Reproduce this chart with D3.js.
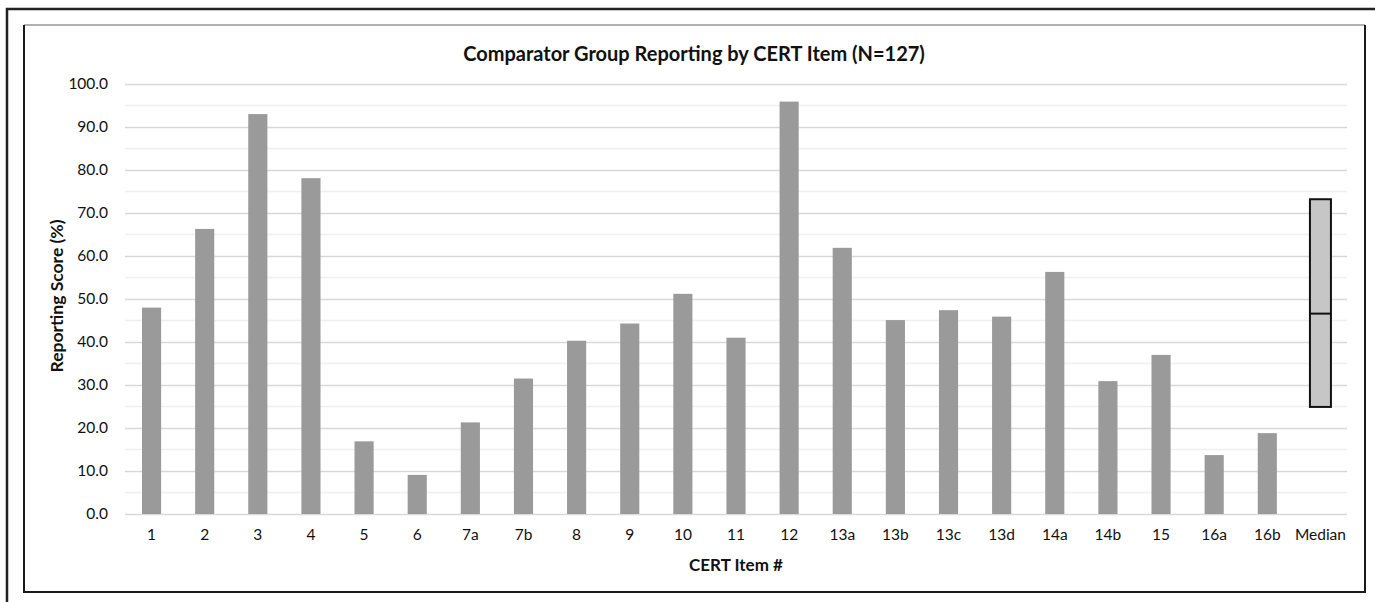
<!DOCTYPE html>
<html>
<head>
<meta charset="utf-8">
<script src="https://cdn.jsdelivr.net/npm/d3@7"></script>
<style>
  body { margin: 0; background: #fff; }
  svg { display: block; font-family: Lato, 'Open Sans', sans-serif; }
</style>
</head>
<body>
<div class="chart"></div>
<script>
// data
const items = ['1', '2', '3', '4', '5', '6', '7a', '7b', '8', '9', '10', '11', '12',
  '13a', '13b', '13c', '13d', '14a', '14b', '15', '16a', '16b', 'Median'];
const scores = [48.0, 66.3, 93.0, 78.1, 16.9, 9.1, 21.3, 31.5, 40.3, 44.3, 51.2, 41.0, 95.9,
  61.9, 45.1, 47.4, 45.9, 56.3, 30.9, 37.0, 13.7, 18.8];
const medianBox = { low: 24.9, mid: 46.6, high: 73.2 };
const yTicks = [0, 10, 20, 30, 40, 50, 60, 70, 80, 90, 100];
const minorTicks = [5, 15, 25, 35, 45, 55, 65, 75, 85, 95];

const width = 1375;
const height = 602;
const margin = { top: 84, right: 28, bottom: 88, left: 125 };

const svg = d3.select('.chart')
  .append('svg')
  .attr('width', width)
  .attr('height', height);

// outer frame (left + top only, image is cropped)
svg.append('path')
  .attr('d', 'M7,602 L7,9 L1375,9')
  .attr('fill', 'none')
  .attr('stroke', '#222')
  .attr('stroke-width', 2.5);

// chart area border
svg.append('line').attr('x1', 24).attr('x2', 1365).attr('y1', 25).attr('y2', 25)
  .attr('stroke', '#999').attr('stroke-width', 1.5);
svg.append('path')
  .attr('d', 'M24,25 L24,592 L1365,592 L1365,25')
  .attr('fill', 'none')
  .attr('stroke', '#1a1a1a')
  .attr('stroke-width', 2);

const x = d3.scaleBand()
  .domain(items)
  .range([margin.left, width - margin.right])
  .paddingInner(0.64)
  .paddingOuter(0.32);

const y = d3.scaleLinear()
  .domain([0, 100])
  .range([height - margin.bottom, margin.top]);

// minor gridlines
svg.append('g')
  .selectAll('line')
  .data(minorTicks)
  .enter()
  .append('line')
  .attr('x1', margin.left)
  .attr('x2', width - margin.right)
  .attr('y1', d => y(d))
  .attr('y2', d => y(d))
  .attr('stroke', '#f0f0f0')
  .attr('stroke-width', 1.5);

// major gridlines + labels
const yAxis = d3.axisLeft(y)
  .tickValues(yTicks)
  .tickFormat(d3.format('.1f'))
  .tickSize(-(width - margin.left - margin.right))
  .tickPadding(17);

svg.append('g')
  .attr('transform', 'translate(' + margin.left + ',0)')
  .call(yAxis)
  .call(g => g.select('.domain').remove())
  .call(g => g.selectAll('.tick line').attr('stroke', '#d9d9d9').attr('stroke-width', 1.5))
  .call(g => g.selectAll('.tick text')
    .attr('font-size', 15.5)
    .attr('fill', '#111')
    .attr('font-family', 'Lato, sans-serif'));

// bars
svg.append('g')
  .selectAll('rect')
  .data(scores)
  .enter()
  .append('rect')
  .attr('x', (d, i) => x(items[i]))
  .attr('y', d => y(d))
  .attr('width', x.bandwidth())
  .attr('height', d => y(0) - y(d))
  .attr('fill', '#9a9a9a');

// median box
const bx = x('Median') + x.bandwidth() / 2;
const bw = 21;
svg.append('rect')
  .attr('x', bx - bw / 2)
  .attr('y', y(medianBox.high))
  .attr('width', bw)
  .attr('height', y(medianBox.low) - y(medianBox.high))
  .attr('fill', '#c6c6c6')
  .attr('stroke', '#111')
  .attr('stroke-width', 2);
svg.append('line')
  .attr('x1', bx - bw / 2)
  .attr('x2', bx + bw / 2)
  .attr('y1', y(medianBox.mid))
  .attr('y2', y(medianBox.mid))
  .attr('stroke', '#111')
  .attr('stroke-width', 2);

// x axis labels
const xAxis = d3.axisBottom(x).tickSize(0).tickPadding(15);
svg.append('g')
  .attr('transform', 'translate(0,' + y(0) + ')')
  .call(xAxis)
  .call(g => g.select('.domain').remove())
  .call(g => g.selectAll('.tick text')
    .attr('font-size', 15.5)
    .attr('fill', '#111')
    .attr('font-family', 'Lato, sans-serif'));

// titles
svg.append('text')
  .attr('x', 694)
  .attr('y', 61)
  .attr('text-anchor', 'middle')
  .attr('font-size', 20)
  .attr('font-weight', 'bold')
  .attr('fill', '#111')
  .text('Comparator Group Reporting by CERT Item (N=127)');

svg.append('text')
  .attr('x', (margin.left + width - margin.right) / 2)
  .attr('y', 571)
  .attr('text-anchor', 'middle')
  .attr('font-size', 17)
  .attr('font-weight', 'bold')
  .attr('fill', '#111')
  .text('CERT Item #');

svg.append('text')
  .attr('transform', 'translate(63,' + (y(50) - 3) + ') rotate(-90)')
  .attr('text-anchor', 'middle')
  .attr('font-size', 17.5)
  .attr('font-weight', 'bold')
  .attr('fill', '#111')
  .text('Reporting Score (%)');
</script>
</body>
</html>
